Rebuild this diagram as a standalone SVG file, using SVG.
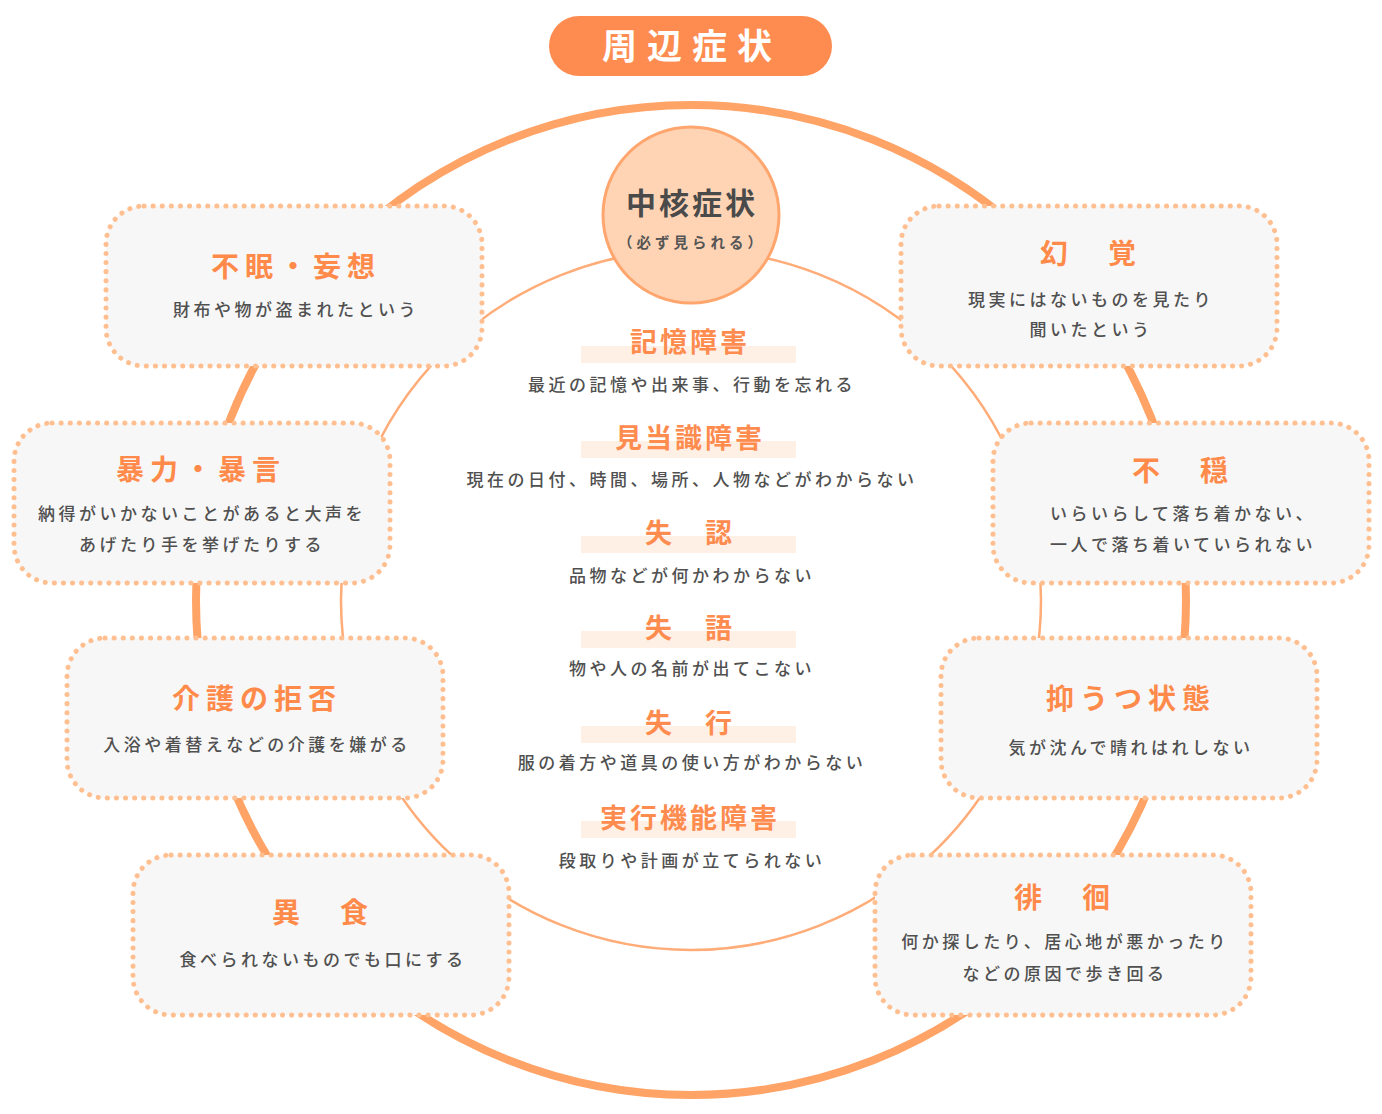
<svg xmlns="http://www.w3.org/2000/svg" width="1382" height="1114" viewBox="0 0 1382 1114">
<style>
text{font-family:"Noto Sans CJK JP","Noto Sans CJK SC",sans-serif;text-anchor:middle}
.box{fill:#f7f7f7;stroke:#ffbf90;stroke-width:5;stroke-dasharray:0.1 9;stroke-linecap:round}
.bt{font-size:28px;font-weight:700;fill:#ff8a4a;letter-spacing:6px}
.bd{font-size:17px;font-weight:500;fill:#505050;letter-spacing:3.5px}
.ch{font-size:27px;font-weight:700;fill:#ff8c4f;letter-spacing:3px}
.band{fill:#fff0e6}
</style>
<rect width="1382" height="1114" fill="#fff"/>
<g id="title">
<rect x="549" y="16" width="283" height="60" rx="30" fill="#fe8c50"/>
<text x="692" y="59" font-size="35" font-weight="700" fill="#fff" letter-spacing="10">周辺症状</text>
</g>
<g id="connectors">
<circle cx="691" cy="600" r="495" fill="none" stroke="#ffa366" stroke-width="8"/>
<circle cx="691" cy="600" r="350" fill="none" stroke="#ffac78" stroke-width="2.5"/>
</g>
<g id="core">
<circle cx="691" cy="215" r="88" fill="#ffd4b5" stroke="#ffa66e" stroke-width="3"/>
<text x="692" y="214" font-size="30" font-weight="700" fill="#4a4a4a" letter-spacing="3">中核症状</text>
<text x="692" y="248" font-size="14.5" font-weight="700" fill="#555" letter-spacing="4">（必ず見られる）</text>
</g>
<g id="core-items">
<rect class="band" x="581" y="346" width="215" height="17"/>
<text class="ch" x="690" y="352">記憶障害</text>
<text class="bd" x="692" y="390.5">最近の記憶や出来事、行動を忘れる</text>
<rect class="band" x="581" y="441" width="215" height="17"/>
<text class="ch" x="690" y="448">見当識障害</text>
<text class="bd" x="692" y="485.5">現在の日付、時間、場所、人物などがわからない</text>
<rect class="band" x="581" y="536" width="215" height="17"/>
<text class="ch" x="690" y="543">失　認</text>
<text class="bd" x="692" y="581.5">品物などが何かわからない</text>
<rect class="band" x="581" y="631" width="215" height="17"/>
<text class="ch" x="690" y="638">失　語</text>
<text class="bd" x="692" y="674.5">物や人の名前が出てこない</text>
<rect class="band" x="581" y="726" width="215" height="17"/>
<text class="ch" x="690" y="733">失　行</text>
<text class="bd" x="692" y="768.5">服の着方や道具の使い方がわからない</text>
<rect class="band" x="581" y="821" width="215" height="17"/>
<text class="ch" x="690" y="828">実行機能障害</text>
<text class="bd" x="692" y="866.5">段取りや計画が立てられない</text>
</g>
<g id="node-fumin">
<rect class="box" x="106" y="206" width="376" height="160" rx="38"/>
<text class="bt" x="296" y="277">不眠・妄想</text>
<text class="bd" x="296" y="316">財布や物が盗まれたという</text>
</g>
<g id="node-genkaku">
<rect class="box" x="901" y="206" width="376" height="160" rx="38"/>
<text class="bt" x="1091" y="264">幻　覚</text>
<text class="bd" x="1091" y="305.5">現実にはないものを見たり</text>
<text class="bd" x="1091" y="335.5">聞いたという</text>
</g>
<g id="node-bouryoku">
<rect class="box" x="14" y="423" width="376" height="160" rx="38"/>
<text class="bt" x="201" y="480">暴力・暴言</text>
<text class="bd" x="202" y="520">納得がいかないことがあると大声を</text>
<text class="bd" x="202" y="551">あげたり手を挙げたりする</text>
</g>
<g id="node-fuon">
<rect class="box" x="993" y="423" width="376" height="160" rx="38"/>
<text class="bt" x="1183" y="481">不　穏</text>
<text class="bd" x="1183" y="520">いらいらして落ち着かない、</text>
<text class="bd" x="1183" y="551">一人で落ち着いていられない</text>
</g>
<g id="node-kaigo">
<rect class="box" x="67" y="638" width="376" height="160" rx="38"/>
<text class="bt" x="257" y="709">介護の拒否</text>
<text class="bd" x="257" y="751">入浴や着替えなどの介護を嫌がる</text>
</g>
<g id="node-yokuutsu">
<rect class="box" x="941" y="638" width="376" height="160" rx="38"/>
<text class="bt" x="1131" y="709">抑うつ状態</text>
<text class="bd" x="1131" y="754">気が沈んで晴れはれしない</text>
</g>
<g id="node-ishoku">
<rect class="box" x="133" y="855" width="376" height="160" rx="38"/>
<text class="bt" x="323" y="923">異　食</text>
<text class="bd" x="323" y="966">食べられないものでも口にする</text>
</g>
<g id="node-haikai">
<rect class="box" x="875" y="855" width="376" height="160" rx="38"/>
<text class="bt" x="1065" y="908">徘　徊</text>
<text class="bd" x="1065" y="948">何か探したり、居心地が悪かったり</text>
<text class="bd" x="1065" y="980">などの原因で歩き回る</text>
</g>
</svg>
